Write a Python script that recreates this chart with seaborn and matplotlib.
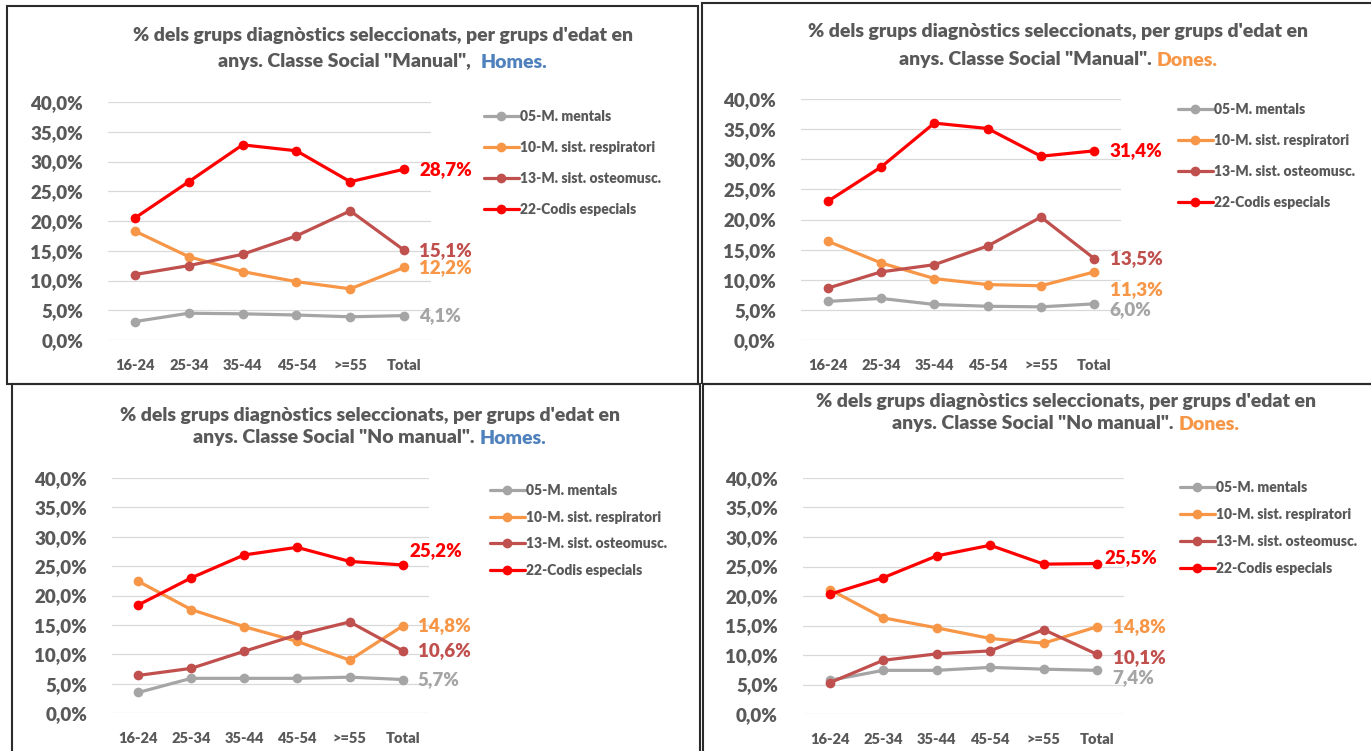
import matplotlib
matplotlib.use("Agg")
import matplotlib.pyplot as plt
import matplotlib.patches as mpatches
import seaborn as sns
import pandas as pd
import numpy as np

# ---- data -------------------------------------------------------------
age_groups = ["16-24", "25-34", "35-44", "45-54", ">=55", "Total"]
series_names = ["05-M. mentals", "10-M. sist. respiratori",
                "13-M. sist. osteomusc.", "22-Codis especials"]

# Classe social "Manual" - Homes
manual_homes_mentals = [3.1, 4.5, 4.4, 4.2, 3.9, 4.1]
manual_homes_respir = [18.3, 14.0, 11.5, 9.8, 8.6, 12.2]
manual_homes_osteo = [11.0, 12.5, 14.4, 17.5, 21.7, 15.1]
manual_homes_codis = [20.5, 26.6, 32.8, 31.8, 26.6, 28.7]

# Classe social "Manual" - Dones
manual_dones_mentals = [6.4, 6.9, 5.9, 5.6, 5.5, 6.0]
manual_dones_respir = [16.4, 12.8, 10.2, 9.2, 9.0, 11.3]
manual_dones_osteo = [8.6, 11.3, 12.5, 15.6, 20.4, 13.5]
manual_dones_codis = [23.0, 28.7, 36.0, 35.1, 30.5, 31.4]

# Classe social "No manual" - Homes
nomanual_homes_mentals = [3.5, 5.9, 5.9, 5.9, 6.1, 5.7]
nomanual_homes_respir = [22.4, 17.6, 14.7, 12.2, 9.0, 14.8]
nomanual_homes_osteo = [6.4, 7.6, 10.5, 13.3, 15.5, 10.6]
nomanual_homes_codis = [18.4, 23.0, 26.9, 28.2, 25.8, 25.2]

# Classe social "No manual" - Dones
nomanual_dones_mentals = [5.7, 7.4, 7.4, 7.9, 7.6, 7.4]
nomanual_dones_respir = [21.1, 16.3, 14.6, 12.8, 12.0, 14.8]
nomanual_dones_osteo = [5.3, 9.1, 10.2, 10.7, 14.3, 10.1]
nomanual_dones_codis = [20.3, 23.1, 26.8, 28.6, 25.4, 25.5]

panel_values = [
    [manual_homes_mentals, manual_homes_respir, manual_homes_osteo, manual_homes_codis],
    [manual_dones_mentals, manual_dones_respir, manual_dones_osteo, manual_dones_codis],
    [nomanual_homes_mentals, nomanual_homes_respir, nomanual_homes_osteo, nomanual_homes_codis],
    [nomanual_dones_mentals, nomanual_dones_respir, nomanual_dones_osteo, nomanual_dones_codis],
]
title_line1 = "% dels grups diagnòstics seleccionats, per grups d'edat en"
title_prefix = ['anys. Classe Social "Manual",', 'anys. Classe Social "Manual".',
                'anys. Classe Social "No manual".', 'anys. Classe Social "No manual".']
title_word = ["Homes.", "Dones.", "Homes.", "Dones."]

# ---- style ------------------------------------------------------------
W, H = 1371, 751
palette = ["#A5A5A5", "#F79646", "#C0504D", "#FF0000"]
word_colors = {"Homes.": "#4F81BD", "Dones.": "#F79646"}
text_gray = "#595959"
WEIGHT = 'heavy'

sns.set_style("white")
plt.rcParams['font.family'] = ['Lato', 'DejaVu Sans']
plt.rcParams['font.weight'] = WEIGHT

# pixel layout of each panel: plot area (x0, x1, y_top(40%), y_bottom(0%)),
# title centre/lines, legend anchor, legend spacing, border box
layout = [
    dict(ax=(108, 431, 102, 340), tx=383, ty=(36, 62), leg=(484, 110), lsp=1.3,
         box=(7, 6, 698, 384)),
    dict(ax=(801, 1121, 99, 340), tx=1058, ty=(32, 60), leg=(1178, 103), lsp=1.3,
         box=(702, 3, 1373, 384)),
    dict(ax=(112, 429, 478, 713), tx=370, ty=(415, 438), leg=(490, 484), lsp=0.98,
         box=(12, 384, 700, 753)),
    dict(ax=(803, 1124, 478, 714), tx=1066, ty=(401, 424), leg=(1180, 481), lsp=1.0,
         box=(703, 384, 1373, 753)),
]
# end label offsets (points) per panel and series
label_offsets = [
    [(11, 0), (11, 0), (11, 0), (11, 0)],
    [(11, -4), (11, -13), (11, 0), (11, 0)],
    [(11, 0), (11, 0), (11, 0), (5, 10)],
    [(11, -5), (11, 0), (11, -2), (5, 4)],
]


def fx(px):
    return px / W


def fy(py):
    return 1 - py / H


fig = plt.figure(figsize=(W / 100, H / 100), dpi=100)
renderer = fig.canvas.get_renderer()

for p, vals in enumerate(panel_values):
    L = layout[p]
    x0, x1, yt, yb = L['ax']
    ax = fig.add_axes([fx(x0), fy(yb), (x1 - x0) / W, (yb - yt) / H])

    rows = []
    for name, v in zip(series_names, vals):
        for g, val in zip(age_groups, v):
            rows.append({'grup': g, 'serie': name, 'pct': val / 100})
    df = pd.DataFrame(rows)

    sns.lineplot(data=df, x='grup', y='pct', hue='serie', palette=palette,
                 hue_order=series_names, marker='o', markersize=7,
                 markeredgewidth=0, linewidth=2.3, sort=False, errorbar=None, ax=ax)

    ticks = np.arange(0, 0.401, 0.05)
    ax.set_xlim(-0.5, len(age_groups) - 0.5)
    ax.set_ylim(0, 0.40)
    ax.set_yticks(ticks)
    ax.set_yticklabels([f"{t * 100:.1f}%".replace('.', ',') for t in ticks])
    ax.set_xticks(range(len(age_groups)))
    ax.set_xticklabels(age_groups)
    ax.tick_params(axis='y', labelsize=13.5, colors=text_gray, length=0, pad=18)
    ax.tick_params(axis='x', labelsize=10.5, colors=text_gray, length=0, pad=14)
    ax.set_xlabel('')
    ax.set_ylabel('')
    ax.yaxis.grid(True, color='#D9D9D9', linewidth=0.9)
    ax.set_axisbelow(True)
    for s in ax.spines.values():
        s.set_visible(False)

    # end-of-line value labels
    for k, v in enumerate(vals):
        ax.annotate(f"{v[-1]:.1f}%".replace('.', ','), xy=(len(age_groups) - 1, v[-1] / 100),
                    xytext=label_offsets[p][k], textcoords='offset points',
                    ha='left', va='center', fontsize=13.5, fontweight=WEIGHT,
                    color=palette[k], annotation_clip=False)

    # legend
    lx, ly = L['leg']
    handles, labels = ax.get_legend_handles_labels()
    ax.legend(handles, labels, loc='upper left', bbox_to_anchor=(fx(lx), fy(ly)),
              bbox_transform=fig.transFigure, frameon=False, borderpad=0,
              prop={'size': 10, 'weight': WEIGHT}, labelcolor=text_gray,
              handlelength=2.5, handletextpad=0.1, labelspacing=L['lsp'],
              borderaxespad=0)

    # title, two lines with coloured last word
    cx = L['tx']
    fig.text(fx(cx), fy(L['ty'][0]), title_line1, ha='center', va='center',
             fontsize=14, fontweight=WEIGHT, color=text_gray)
    ta = fig.text(0, fy(L['ty'][1]), title_prefix[p], ha='left', va='center',
                  fontsize=14, fontweight=WEIGHT, color=text_gray)
    tb = fig.text(0, fy(L['ty'][1]), title_word[p], ha='left', va='center',
                  fontsize=14, fontweight=WEIGHT, color=word_colors[title_word[p]])
    wa = ta.get_window_extent(renderer).width
    wb = tb.get_window_extent(renderer).width
    gap = 10 if p == 0 else 5
    left = cx - (wa + gap + wb) / 2
    ta.set_x(fx(left))
    tb.set_x(fx(left + wa + gap))

    # panel border
    bx0, by0, bx1, by1 = L['box']
    fig.add_artist(mpatches.Rectangle((fx(bx0), fy(by1)), (bx1 - bx0) / W, (by1 - by0) / H,
                                      transform=fig.transFigure, fill=False,
                                      edgecolor='#2b2b2b', linewidth=1.5))

fig.savefig("out.png", dpi=100)
